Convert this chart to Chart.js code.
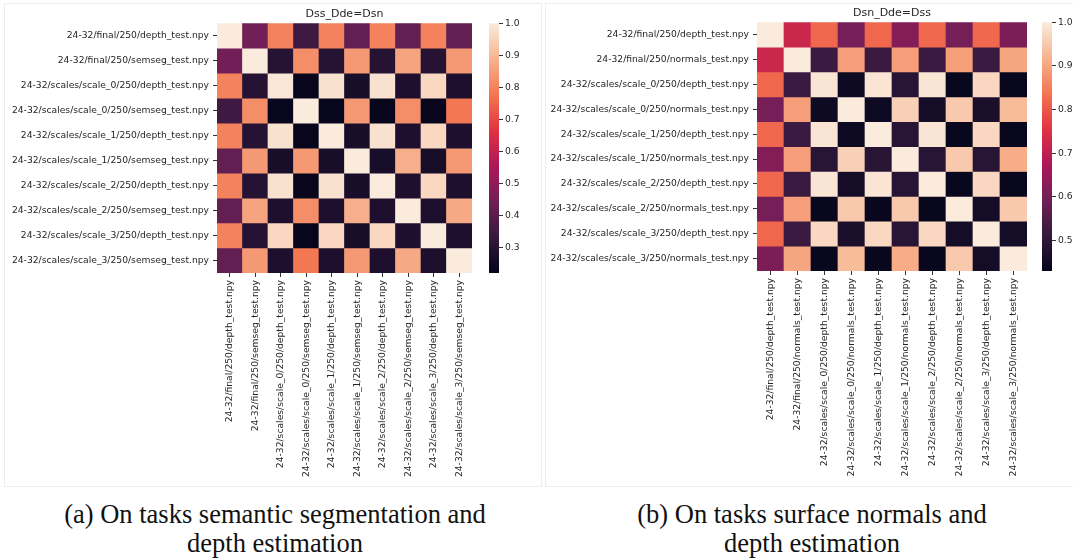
<!DOCTYPE html>
<html>
<head>
<meta charset="utf-8">
<script src="https://cdn.jsdelivr.net/npm/chart.js@4.4.1/dist/chart.umd.min.js"></script>
<style>
  html, body { margin: 0; padding: 0; background: #fff; width: 1073px; height: 560px; overflow: hidden; }
  canvas { position: absolute; }
  .panel { position: absolute; border: 1px solid #ededed; }
  .cap { position: absolute; width: 560px; font-family: "Liberation Serif", serif; font-size: 26.5px; line-height: 29px; color: #111; text-align: center; }
</style>
</head>
<body>
<div class="panel" style="left:4px;top:3px;width:536px;height:482px;"></div>
<div class="panel" style="left:545px;top:3px;width:540px;height:482px;"></div>
<canvas id="heatA" width="480" height="490" style="left:0;top:0"></canvas>
<canvas id="barA" width="60" height="300" style="left:480px;top:0"></canvas>
<canvas id="heatB" width="495" height="488" style="left:540px;top:0"></canvas>
<canvas id="barB" width="60" height="300" style="left:1033px;top:0"></canvas>
<div class="cap" style="left:-5px;top:500px;">(a) On tasks semantic segmentation and<br>depth estimation</div>
<div class="cap" style="left:532px;top:500px;">(b) On tasks surface normals and<br>depth estimation</div>
<script>
// row / column labels
const labelsA = [
  "24-32/final/250/depth_test.npy",
  "24-32/final/250/semseg_test.npy",
  "24-32/scales/scale_0/250/depth_test.npy",
  "24-32/scales/scale_0/250/semseg_test.npy",
  "24-32/scales/scale_1/250/depth_test.npy",
  "24-32/scales/scale_1/250/semseg_test.npy",
  "24-32/scales/scale_2/250/depth_test.npy",
  "24-32/scales/scale_2/250/semseg_test.npy",
  "24-32/scales/scale_3/250/depth_test.npy",
  "24-32/scales/scale_3/250/semseg_test.npy"
];
const labelsB = [
  "24-32/final/250/depth_test.npy",
  "24-32/final/250/normals_test.npy",
  "24-32/scales/scale_0/250/depth_test.npy",
  "24-32/scales/scale_0/250/normals_test.npy",
  "24-32/scales/scale_1/250/depth_test.npy",
  "24-32/scales/scale_1/250/normals_test.npy",
  "24-32/scales/scale_2/250/depth_test.npy",
  "24-32/scales/scale_2/250/normals_test.npy",
  "24-32/scales/scale_3/250/depth_test.npy",
  "24-32/scales/scale_3/250/normals_test.npy"
];

// Dss_Dde=Dsn
const matrixA = [
  [1.00, 0.45, 0.80, 0.35, 0.80, 0.42, 0.80, 0.42, 0.80, 0.42],
  [0.45, 1.00, 0.30, 0.82, 0.30, 0.84, 0.30, 0.86, 0.30, 0.84],
  [0.80, 0.30, 0.99, 0.23, 0.98, 0.27, 0.98, 0.28, 0.96, 0.28],
  [0.35, 0.82, 0.23, 1.00, 0.23, 0.84, 0.23, 0.82, 0.23, 0.78],
  [0.80, 0.30, 0.98, 0.23, 1.00, 0.27, 0.98, 0.28, 0.96, 0.28],
  [0.42, 0.84, 0.27, 0.84, 0.27, 1.00, 0.27, 0.88, 0.27, 0.84],
  [0.80, 0.30, 0.98, 0.23, 0.98, 0.27, 1.00, 0.28, 0.96, 0.28],
  [0.42, 0.86, 0.28, 0.82, 0.28, 0.88, 0.28, 1.00, 0.28, 0.87],
  [0.80, 0.30, 0.96, 0.23, 0.96, 0.27, 0.96, 0.28, 1.00, 0.28],
  [0.42, 0.84, 0.28, 0.78, 0.28, 0.84, 0.28, 0.87, 0.28, 1.00]
];
// Dsn_Dde=Dss
const matrixB = [
  [1.00, 0.72, 0.82, 0.60, 0.82, 0.62, 0.82, 0.60, 0.82, 0.61],
  [0.72, 1.00, 0.52, 0.89, 0.52, 0.89, 0.52, 0.89, 0.52, 0.90],
  [0.82, 0.52, 0.99, 0.45, 0.99, 0.49, 0.99, 0.44, 0.97, 0.44],
  [0.60, 0.89, 0.45, 1.00, 0.45, 0.96, 0.46, 0.95, 0.47, 0.93],
  [0.82, 0.52, 0.99, 0.45, 1.00, 0.49, 0.99, 0.44, 0.97, 0.44],
  [0.62, 0.89, 0.49, 0.96, 0.49, 1.00, 0.49, 0.95, 0.49, 0.91],
  [0.82, 0.52, 0.99, 0.46, 0.99, 0.49, 1.00, 0.44, 0.97, 0.44],
  [0.60, 0.89, 0.44, 0.95, 0.44, 0.95, 0.44, 1.00, 0.46, 0.95],
  [0.82, 0.52, 0.97, 0.47, 0.97, 0.49, 0.97, 0.46, 1.00, 0.46],
  [0.61, 0.90, 0.44, 0.93, 0.44, 0.91, 0.44, 0.95, 0.46, 1.00]
];

const rangeA = [0.222, 1.0];
const rangeB = [0.43, 1.0];
const cbarTicksA = [0.3, 0.4, 0.5, 0.6, 0.7, 0.8, 0.9, 1.0];
const cbarTicksB = [0.5, 0.6, 0.7, 0.8, 0.9, 1.0];

// seaborn "rocket" colormap, sampled
const rocket = [
  [0, 3, 5, 26],
  [1 / 7, 53, 25, 62],
  [2 / 7, 112, 31, 87],
  [3 / 7, 173, 23, 89],
  [4 / 7, 225, 51, 66],
  [5 / 7, 243, 118, 81],
  [6 / 7, 246, 180, 143],
  [1, 250, 235, 221]
];

function rocketColor(t) {
  t = Math.max(0, Math.min(1, t));
  for (let i = 1; i < rocket.length; i++) {
    if (t <= rocket[i][0]) {
      const a = rocket[i - 1], b = rocket[i];
      const f = (t - a[0]) / (b[0] - a[0]);
      const c = [1, 2, 3].map(k => Math.round(a[k] + (b[k] - a[k]) * f));
      return 'rgb(' + c.join(',') + ')';
    }
  }
  return 'rgb(250,235,221)';
}

const FONT = 'DejaVu Sans';
const TXT = '#262626';
const TICK_SIZE = 9.2;

function heatmap(id, title, labels, matrix, range, padTop) {
  const datasets = matrix.map((row, r) => ({
    data: row.map(() => [r, r + 1]),
    backgroundColor: row.map(v => rocketColor((v - range[0]) / (range[1] - range[0]))),
    grouped: false,
    barPercentage: 1,
    categoryPercentage: 1,
    borderWidth: 0
  }));
  return new Chart(document.getElementById(id), {
    type: 'bar',
    data: { labels: labels, datasets: datasets },
    options: {
      responsive: false,
      animation: false,
      layout: { padding: { top: padTop, right: 8 } },
      plugins: {
        legend: { display: false },
        tooltip: { enabled: false },
        title: {
          display: true, text: title, fullSize: false, color: TXT,
          font: { family: FONT, size: 11, weight: 'normal' },
          padding: { top: 0, bottom: 2 }
        }
      },
      scales: {
        x: {
          grid: { offset: false, drawOnChartArea: false, drawTicks: true, tickLength: 4, color: '#333' },
          border: { display: false },
          ticks: { minRotation: 90, maxRotation: 90, autoSkip: false, padding: 3, color: TXT, font: { family: FONT, size: TICK_SIZE } },
          afterFit: s => { s.height = 217; }
        },
        y: {
          min: 0, max: 10, reverse: true,
          afterBuildTicks: s => { s.ticks = labels.map((_, i) => ({ value: i + 0.5 })); },
          grid: { drawOnChartArea: false, drawTicks: true, tickLength: 4, color: '#333' },
          border: { display: false },
          ticks: { autoSkip: false, padding: 4, color: TXT, font: { family: FONT, size: TICK_SIZE }, callback: (v, i) => labels[i] },
          afterFit: s => { s.width = 217; }
        }
      }
    }
  });
}

function colorbar(id, range, ticks, padTop, padBottom) {
  return new Chart(document.getElementById(id), {
    type: 'bar',
    data: {
      labels: [''],
      datasets: [{
        data: [range],
        barPercentage: 1,
        categoryPercentage: 1,
        borderWidth: 0,
        backgroundColor: ctx => {
          const area = ctx.chart.chartArea;
          if (!area) return '#000';
          const g = ctx.chart.ctx.createLinearGradient(0, area.bottom, 0, area.top);
          rocket.forEach(s => g.addColorStop(s[0], 'rgb(' + s[1] + ',' + s[2] + ',' + s[3] + ')'));
          return g;
        }
      }]
    },
    options: {
      responsive: false,
      animation: false,
      layout: { padding: { left: 9, top: padTop, bottom: padBottom } },
      plugins: { legend: { display: false }, tooltip: { enabled: false } },
      scales: {
        x: { display: false },
        y: {
          position: 'right', min: range[0], max: range[1],
          afterBuildTicks: s => { s.ticks = ticks.map(v => ({ value: v })); },
          grid: { drawOnChartArea: false, drawTicks: true, tickLength: 4, color: '#333' },
          border: { display: false },
          ticks: { padding: 2, color: TXT, font: { family: FONT, size: TICK_SIZE }, callback: v => v.toFixed(1) },
          afterFit: s => { s.width = 41; }
        }
      }
    }
  });
}

heatmap('heatA', 'Dss_Dde=Dsn', labelsA, matrixA, rangeA, 8);
colorbar('barA', rangeA, cbarTicksA, 23.2, 27);
heatmap('heatB', 'Dsn_Dde=Dss', labelsB, matrixB, rangeB, 7);
colorbar('barB', rangeB, cbarTicksB, 22.2, 29);
</script>
</body>
</html>
